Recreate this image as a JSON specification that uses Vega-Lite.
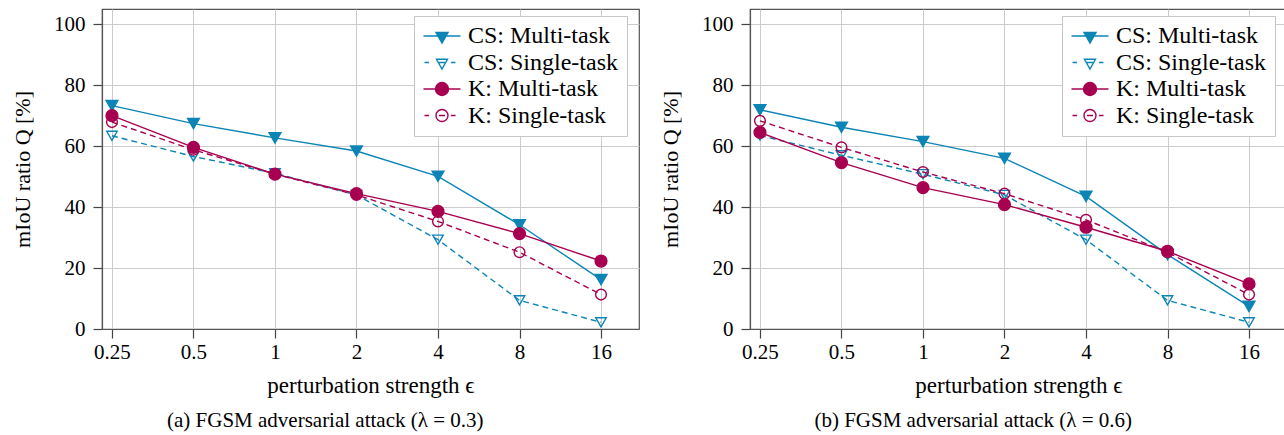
{
  "$schema": "https://vega.github.io/schema/vega-lite/v6.json",
  "padding": {"left": 10, "top": 8, "right": 0, "bottom": 0},
  "autosize": {"type": "pad"},
  "background": "white",
  "bounds": "flush",
  "datasets": {"pts": [
    {"panel": "a", "series": "CS: Multi-task", "eps": 0.25, "value": 73.3},
    {"panel": "a", "series": "CS: Multi-task", "eps": 0.5, "value": 67.4},
    {"panel": "a", "series": "CS: Multi-task", "eps": 1, "value": 62.7},
    {"panel": "a", "series": "CS: Multi-task", "eps": 2, "value": 58.4},
    {"panel": "a", "series": "CS: Multi-task", "eps": 4, "value": 50.1},
    {"panel": "a", "series": "CS: Multi-task", "eps": 8, "value": 34.2},
    {"panel": "a", "series": "CS: Multi-task", "eps": 16, "value": 16.2},
    {"panel": "a", "series": "CS: Single-task", "eps": 0.25, "value": 63.4},
    {"panel": "a", "series": "CS: Single-task", "eps": 0.5, "value": 56.6},
    {"panel": "a", "series": "CS: Single-task", "eps": 1, "value": 51.1},
    {"panel": "a", "series": "CS: Single-task", "eps": 2, "value": 44.0},
    {"panel": "a", "series": "CS: Single-task", "eps": 4, "value": 29.3},
    {"panel": "a", "series": "CS: Single-task", "eps": 8, "value": 9.4},
    {"panel": "a", "series": "CS: Single-task", "eps": 16, "value": 2.2},
    {"panel": "a", "series": "K: Multi-task", "eps": 0.25, "value": 70.0},
    {"panel": "a", "series": "K: Multi-task", "eps": 0.5, "value": 59.6},
    {"panel": "a", "series": "K: Multi-task", "eps": 1, "value": 50.8},
    {"panel": "a", "series": "K: Multi-task", "eps": 2, "value": 44.4},
    {"panel": "a", "series": "K: Multi-task", "eps": 4, "value": 38.6},
    {"panel": "a", "series": "K: Multi-task", "eps": 8, "value": 31.3},
    {"panel": "a", "series": "K: Multi-task", "eps": 16, "value": 22.3},
    {"panel": "a", "series": "K: Single-task", "eps": 0.25, "value": 67.9},
    {"panel": "a", "series": "K: Single-task", "eps": 0.5, "value": 58.8},
    {"panel": "a", "series": "K: Single-task", "eps": 1, "value": 50.8},
    {"panel": "a", "series": "K: Single-task", "eps": 2, "value": 44.0},
    {"panel": "a", "series": "K: Single-task", "eps": 4, "value": 35.3},
    {"panel": "a", "series": "K: Single-task", "eps": 8, "value": 25.2},
    {"panel": "a", "series": "K: Single-task", "eps": 16, "value": 11.3},
    {"panel": "b", "series": "CS: Multi-task", "eps": 0.25, "value": 71.9},
    {"panel": "b", "series": "CS: Multi-task", "eps": 0.5, "value": 66.2},
    {"panel": "b", "series": "CS: Multi-task", "eps": 1, "value": 61.5},
    {"panel": "b", "series": "CS: Multi-task", "eps": 2, "value": 56.0},
    {"panel": "b", "series": "CS: Multi-task", "eps": 4, "value": 43.5},
    {"panel": "b", "series": "CS: Multi-task", "eps": 8, "value": 24.4},
    {"panel": "b", "series": "CS: Multi-task", "eps": 16, "value": 7.4},
    {"panel": "b", "series": "CS: Single-task", "eps": 0.25, "value": 63.5},
    {"panel": "b", "series": "CS: Single-task", "eps": 0.5, "value": 57.0},
    {"panel": "b", "series": "CS: Single-task", "eps": 1, "value": 50.8},
    {"panel": "b", "series": "CS: Single-task", "eps": 2, "value": 44.0},
    {"panel": "b", "series": "CS: Single-task", "eps": 4, "value": 29.3},
    {"panel": "b", "series": "CS: Single-task", "eps": 8, "value": 9.4},
    {"panel": "b", "series": "CS: Single-task", "eps": 16, "value": 2.2},
    {"panel": "b", "series": "K: Multi-task", "eps": 0.25, "value": 64.5},
    {"panel": "b", "series": "K: Multi-task", "eps": 0.5, "value": 54.6},
    {"panel": "b", "series": "K: Multi-task", "eps": 1, "value": 46.4},
    {"panel": "b", "series": "K: Multi-task", "eps": 2, "value": 40.8},
    {"panel": "b", "series": "K: Multi-task", "eps": 4, "value": 33.4},
    {"panel": "b", "series": "K: Multi-task", "eps": 8, "value": 25.5},
    {"panel": "b", "series": "K: Multi-task", "eps": 16, "value": 14.8},
    {"panel": "b", "series": "K: Single-task", "eps": 0.25, "value": 68.3},
    {"panel": "b", "series": "K: Single-task", "eps": 0.5, "value": 59.6},
    {"panel": "b", "series": "K: Single-task", "eps": 1, "value": 51.5},
    {"panel": "b", "series": "K: Single-task", "eps": 2, "value": 44.4},
    {"panel": "b", "series": "K: Single-task", "eps": 4, "value": 35.8},
    {"panel": "b", "series": "K: Single-task", "eps": 8, "value": 25.2},
    {"panel": "b", "series": "K: Single-task", "eps": 16, "value": 11.3}
  ]},
  "data": {"name": "pts"},
  "spacing": 111,
  "resolve": {"scale": {"stroke": "independent", "fill": "independent", "shape": "independent", "x": "independent", "y": "independent"}, "legend": {"stroke": "independent", "fill": "independent", "shape": "independent"}},
  "hconcat": [
    {
      "width": 537,
      "height": 320,
      "transform": [{"filter": "datum.panel == 'a'"}],
      "title": {"text": "(a) FGSM adversarial attack (λ = 0.3)", "orient": "bottom", "frame": "bounds", "anchor": "middle", "offset": 13},
      "encoding": {
        "x": {"field": "eps", "type": "quantitative", "scale": {"type": "log", "base": 2, "domain": [0.2297, 22.1], "nice": false}, "axis": {"values": [0.25, 0.5, 1, 2, 4, 8, 16], "title": "perturbation strength ϵ", "labelExpr": "'' + datum.value"}},
        "y": {"field": "value", "type": "quantitative", "scale": {"domain": [0, 105], "nice": false}, "axis": {"values": [0, 20, 40, 60, 80, 100], "title": "mIoU ratio Q [%]"}}
      },
      "layer": [
        {
          "mark": {"type": "point", "filled": true, "opacity": 0},
          "encoding": {
            "stroke": {"field": "series", "type": "nominal", "scale": {"domain": ["CS: Multi-task", "CS: Single-task", "K: Multi-task", "K: Single-task"], "range": ["#0c85b6", "#0c85b6", "#a80050", "#a80050"]},
              "legend": {"title": null, "orient": "none", "legendX": 312, "legendY": 7, "padding": 8, "fillColor": "white", "strokeColor": "#c6c6c6", "labelFont": "Liberation Serif", "labelFontSize": 24, "labelColor": "black", "symbolSize": 100, "symbolOffset": 8, "labelOffset": 14, "rowPadding": 2.5, "symbolStrokeWidth": 1.4, "symbolOpacity": 1}},
            "fill": {"field": "series", "type": "nominal", "scale": {"domain": ["CS: Multi-task", "CS: Single-task", "K: Multi-task", "K: Single-task"], "range": ["#0c85b6", "transparent", "#a80050", "transparent"]},
              "legend": {"title": null, "orient": "none", "legendX": 312, "legendY": 7, "padding": 8, "fillColor": "white", "strokeColor": "#c6c6c6", "labelFont": "Liberation Serif", "labelFontSize": 24, "labelColor": "black", "symbolSize": 100, "symbolOffset": 8, "labelOffset": 14, "rowPadding": 2.5, "symbolStrokeWidth": 1.4, "symbolOpacity": 1}},
            "shape": {"field": "series", "type": "nominal", "scale": {"domain": ["CS: Multi-task", "CS: Single-task", "K: Multi-task", "K: Single-task"], "range": ["M-3.7,0L3.7,0M-1.2,-0.7L1.2,-0.7L0,1.4Z", "M-3.5,0L-2.6,0M-0.6,0L0.6,0M1.8,0L2.7,0M-1.1,-0.65L1.1,-0.65L0,1.3Z", "M-3.7,0L3.7,0M1.3,0A1.3,1.3,0,1,1,-1.3,0A1.3,1.3,0,1,1,1.3,0Z", "M-3.5,0L-2.6,0M-0.6,0L0.6,0M1.8,0L2.7,0M1.2,0A1.2,1.2,0,1,1,-1.2,0A1.2,1.2,0,1,1,1.2,0Z"]},
              "legend": {"title": null, "orient": "none", "legendX": 312, "legendY": 7, "padding": 8, "fillColor": "white", "strokeColor": "#c6c6c6", "labelFont": "Liberation Serif", "labelFontSize": 24, "labelColor": "black", "symbolSize": 100, "symbolOffset": 8, "labelOffset": 14, "rowPadding": 2.5, "symbolStrokeWidth": 1.4, "symbolOpacity": 1}}
          }
        },
        {"transform": [{"filter": "datum.series === 'CS: Multi-task'"}], "mark": {"type": "line", "stroke": "#0c85b6", "strokeWidth": 1.4}, "encoding": {}},
        {"transform": [{"filter": "datum.series === 'CS: Multi-task'"}], "mark": {"type": "point", "shape": "triangle-down", "filled": true, "fill": "#0c85b6", "stroke": "#0c85b6", "strokeWidth": 1.4, "size": 140, "opacity": 1}, "encoding": {}},
        {"transform": [{"filter": "datum.series === 'CS: Single-task'"}], "mark": {"type": "line", "stroke": "#0c85b6", "strokeWidth": 1.4, "strokeDash": [6, 4]}, "encoding": {}},
        {"transform": [{"filter": "datum.series === 'CS: Single-task'"}], "mark": {"type": "point", "shape": "triangle-down", "filled": true, "fill": "transparent", "stroke": "#0c85b6", "strokeWidth": 1.4, "size": 110, "opacity": 1}, "encoding": {}},
        {"transform": [{"filter": "datum.series === 'K: Multi-task'"}], "mark": {"type": "line", "stroke": "#a80050", "strokeWidth": 1.4}, "encoding": {}},
        {"transform": [{"filter": "datum.series === 'K: Multi-task'"}], "mark": {"type": "point", "shape": "circle", "filled": true, "fill": "#a80050", "stroke": "#a80050", "strokeWidth": 1.4, "size": 140, "opacity": 1}, "encoding": {}},
        {"transform": [{"filter": "datum.series === 'K: Single-task'"}], "mark": {"type": "line", "stroke": "#a80050", "strokeWidth": 1.4, "strokeDash": [6, 4]}, "encoding": {}},
        {"transform": [{"filter": "datum.series === 'K: Single-task'"}], "mark": {"type": "point", "shape": "circle", "filled": true, "fill": "transparent", "stroke": "#a80050", "strokeWidth": 1.4, "size": 115, "opacity": 1}, "encoding": {}}
      ]
    },
    {
      "width": 537,
      "height": 320,
      "transform": [{"filter": "datum.panel == 'b'"}],
      "title": {"text": "(b) FGSM adversarial attack (λ = 0.6)", "orient": "bottom", "frame": "bounds", "anchor": "middle", "offset": 13},
      "encoding": {
        "x": {"field": "eps", "type": "quantitative", "scale": {"type": "log", "base": 2, "domain": [0.2297, 22.1], "nice": false}, "axis": {"values": [0.25, 0.5, 1, 2, 4, 8, 16], "title": "perturbation strength ϵ", "labelExpr": "'' + datum.value"}},
        "y": {"field": "value", "type": "quantitative", "scale": {"domain": [0, 105], "nice": false}, "axis": {"values": [0, 20, 40, 60, 80, 100], "title": "mIoU ratio Q [%]"}}
      },
      "layer": [
        {
          "mark": {"type": "point", "filled": true, "opacity": 0},
          "encoding": {
            "stroke": {"field": "series", "type": "nominal", "scale": {"domain": ["CS: Multi-task", "CS: Single-task", "K: Multi-task", "K: Single-task"], "range": ["#0c85b6", "#0c85b6", "#a80050", "#a80050"]},
              "legend": {"title": null, "orient": "none", "legendX": 312, "legendY": 7, "padding": 8, "fillColor": "white", "strokeColor": "#c6c6c6", "labelFont": "Liberation Serif", "labelFontSize": 24, "labelColor": "black", "symbolSize": 100, "symbolOffset": 8, "labelOffset": 14, "rowPadding": 2.5, "symbolStrokeWidth": 1.4, "symbolOpacity": 1}},
            "fill": {"field": "series", "type": "nominal", "scale": {"domain": ["CS: Multi-task", "CS: Single-task", "K: Multi-task", "K: Single-task"], "range": ["#0c85b6", "transparent", "#a80050", "transparent"]},
              "legend": {"title": null, "orient": "none", "legendX": 312, "legendY": 7, "padding": 8, "fillColor": "white", "strokeColor": "#c6c6c6", "labelFont": "Liberation Serif", "labelFontSize": 24, "labelColor": "black", "symbolSize": 100, "symbolOffset": 8, "labelOffset": 14, "rowPadding": 2.5, "symbolStrokeWidth": 1.4, "symbolOpacity": 1}},
            "shape": {"field": "series", "type": "nominal", "scale": {"domain": ["CS: Multi-task", "CS: Single-task", "K: Multi-task", "K: Single-task"], "range": ["M-3.7,0L3.7,0M-1.2,-0.7L1.2,-0.7L0,1.4Z", "M-3.5,0L-2.6,0M-0.6,0L0.6,0M1.8,0L2.7,0M-1.1,-0.65L1.1,-0.65L0,1.3Z", "M-3.7,0L3.7,0M1.3,0A1.3,1.3,0,1,1,-1.3,0A1.3,1.3,0,1,1,1.3,0Z", "M-3.5,0L-2.6,0M-0.6,0L0.6,0M1.8,0L2.7,0M1.2,0A1.2,1.2,0,1,1,-1.2,0A1.2,1.2,0,1,1,1.2,0Z"]},
              "legend": {"title": null, "orient": "none", "legendX": 312, "legendY": 7, "padding": 8, "fillColor": "white", "strokeColor": "#c6c6c6", "labelFont": "Liberation Serif", "labelFontSize": 24, "labelColor": "black", "symbolSize": 100, "symbolOffset": 8, "labelOffset": 14, "rowPadding": 2.5, "symbolStrokeWidth": 1.4, "symbolOpacity": 1}}
          }
        },
        {"transform": [{"filter": "datum.series === 'CS: Multi-task'"}], "mark": {"type": "line", "stroke": "#0c85b6", "strokeWidth": 1.4}, "encoding": {}},
        {"transform": [{"filter": "datum.series === 'CS: Multi-task'"}], "mark": {"type": "point", "shape": "triangle-down", "filled": true, "fill": "#0c85b6", "stroke": "#0c85b6", "strokeWidth": 1.4, "size": 140, "opacity": 1}, "encoding": {}},
        {"transform": [{"filter": "datum.series === 'CS: Single-task'"}], "mark": {"type": "line", "stroke": "#0c85b6", "strokeWidth": 1.4, "strokeDash": [6, 4]}, "encoding": {}},
        {"transform": [{"filter": "datum.series === 'CS: Single-task'"}], "mark": {"type": "point", "shape": "triangle-down", "filled": true, "fill": "transparent", "stroke": "#0c85b6", "strokeWidth": 1.4, "size": 110, "opacity": 1}, "encoding": {}},
        {"transform": [{"filter": "datum.series === 'K: Multi-task'"}], "mark": {"type": "line", "stroke": "#a80050", "strokeWidth": 1.4}, "encoding": {}},
        {"transform": [{"filter": "datum.series === 'K: Multi-task'"}], "mark": {"type": "point", "shape": "circle", "filled": true, "fill": "#a80050", "stroke": "#a80050", "strokeWidth": 1.4, "size": 140, "opacity": 1}, "encoding": {}},
        {"transform": [{"filter": "datum.series === 'K: Single-task'"}], "mark": {"type": "line", "stroke": "#a80050", "strokeWidth": 1.4, "strokeDash": [6, 4]}, "encoding": {}},
        {"transform": [{"filter": "datum.series === 'K: Single-task'"}], "mark": {"type": "point", "shape": "circle", "filled": true, "fill": "transparent", "stroke": "#a80050", "strokeWidth": 1.4, "size": 115, "opacity": 1}, "encoding": {}}
      ]
    }
  ],
  "config": {
    "font": "Liberation Serif",
    "title": {"font": "Liberation Serif", "fontSize": 21, "fontWeight": "normal", "color": "black"},
    "axis": {"labelFont": "Liberation Serif", "labelFontSize": 21, "labelColor": "black", "titleFont": "Liberation Serif", "titleFontWeight": "normal", "titleColor": "black", "gridColor": "#cccccc", "gridWidth": 1, "tickColor": "#444444", "tickSize": 9, "tickWidth": 1.2, "domainColor": "#555555", "domainWidth": 1.2, "labelOverlap": false, "labelFlush": false},
    "axisX": {"labelPadding": 3, "titlePadding": 12, "titleFontSize": 23},
    "axisY": {"labelPadding": 8, "titlePadding": 19, "titleFontSize": 22},
    "view": {"stroke": "#555555", "strokeWidth": 1.2}
  }
}
